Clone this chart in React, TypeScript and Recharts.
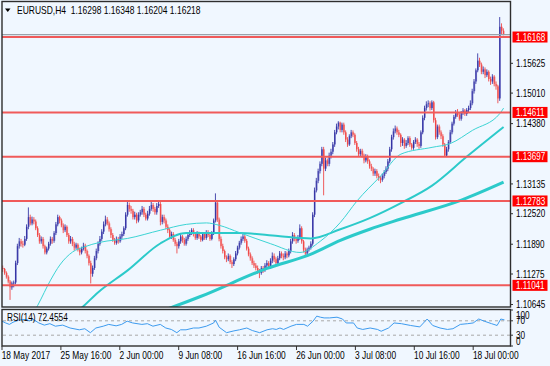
import React from 'react';
import { ComposedChart, Bar, Line, XAxis, YAxis, ReferenceLine } from 'recharts';

// ---------- data ----------
const symbol = 'EURUSD';
const timeframe = 'H4';
const firstOpen = 1140; // price = 1 + v / 10000
const closes = [
  1138, 1130, 1122, 1112, 1100, 1108, 1110, 1150, 1185, 1195,
  1190, 1188, 1200, 1225, 1245, 1232, 1240, 1236, 1222, 1208,
  1195, 1200, 1185, 1172, 1180, 1190, 1200, 1196, 1212, 1230,
  1245, 1238, 1228, 1218, 1225, 1208, 1195, 1200, 1190, 1182,
  1188, 1178, 1172, 1180, 1186, 1175, 1165, 1150, 1128, 1140,
  1160, 1175, 1190, 1200, 1215, 1230, 1240, 1232, 1220, 1208,
  1198, 1192, 1200, 1195, 1205, 1210, 1222, 1250, 1270, 1262,
  1258, 1245, 1250, 1238, 1250, 1255, 1262, 1250, 1242, 1252,
  1262, 1270, 1262, 1255, 1268, 1272, 1235, 1245, 1238, 1225,
  1218, 1205, 1210, 1198, 1190, 1185, 1195, 1205, 1198, 1190,
  1200, 1208, 1212, 1218, 1210, 1202, 1212, 1205, 1198, 1210,
  1202, 1214, 1208, 1200, 1212, 1238, 1275, 1240, 1200, 1185,
  1175, 1162, 1158, 1165, 1152, 1148, 1158, 1170, 1182, 1192,
  1200, 1205, 1196, 1180, 1168, 1160, 1150, 1145, 1140, 1135,
  1130, 1140, 1136, 1145, 1150, 1142, 1155, 1165, 1158, 1150,
  1160, 1170, 1165, 1162, 1170, 1166, 1175, 1195, 1208, 1200,
  1196, 1202, 1222, 1195, 1178, 1170, 1178, 1182, 1190, 1250,
  1300, 1320, 1340, 1355, 1385, 1345, 1362, 1355, 1372, 1380,
  1395, 1420, 1432, 1440, 1425, 1436, 1420, 1405, 1395, 1412,
  1420, 1415, 1398, 1385, 1375, 1382, 1372, 1362, 1370, 1360,
  1350, 1345, 1335, 1340, 1330, 1325, 1322, 1330, 1338, 1345,
  1360, 1385, 1410, 1422, 1428, 1420, 1415, 1398, 1405, 1392,
  1398, 1408, 1395, 1388, 1400, 1405, 1396, 1392, 1420, 1450,
  1470, 1478, 1480, 1470, 1482, 1445, 1410, 1432, 1420, 1412,
  1395, 1372, 1385, 1400, 1420, 1438, 1452, 1462, 1456, 1448,
  1460, 1465, 1458, 1466, 1470, 1480, 1505, 1525, 1548, 1568,
  1560, 1545, 1550, 1538, 1545, 1530, 1525, 1535, 1520, 1515,
  1490, 1638, 1629.8, 1621.8,
];
const highs = [
  1145, 1140, 1133, 1125, 1115, 1112, 1114, 1155, 1190, 1202,
  1200, 1196, 1206, 1230, 1265, 1250, 1246, 1245, 1240, 1226,
  1212, 1205, 1204, 1188, 1184, 1194, 1205, 1204, 1216, 1235,
  1250, 1248, 1242, 1232, 1230, 1228, 1212, 1206, 1204, 1194,
  1192, 1191, 1182, 1184, 1192, 1190, 1178, 1168, 1155, 1145,
  1165, 1180, 1195, 1206, 1220, 1236, 1248, 1245, 1236, 1224,
  1212, 1202, 1205, 1204, 1210, 1215, 1226, 1255, 1280, 1275,
  1268, 1262, 1256, 1254, 1255, 1260, 1268, 1266, 1254, 1258,
  1268, 1278, 1274, 1266, 1274, 1280, 1276, 1250, 1250, 1242,
  1230, 1222, 1215, 1214, 1202, 1194, 1200, 1210, 1208, 1202,
  1205, 1212, 1218, 1222, 1222, 1214, 1216, 1215, 1208, 1214,
  1213, 1218, 1218, 1211, 1216, 1242, 1294, 1280, 1244, 1205,
  1190, 1178, 1166, 1170, 1168, 1156, 1162, 1175, 1186, 1196,
  1205, 1210, 1208, 1200, 1184, 1172, 1164, 1155, 1150, 1145,
  1138, 1144, 1144, 1150, 1156, 1154, 1160, 1172, 1170, 1162,
  1165, 1175, 1174, 1170, 1175, 1174, 1180, 1200, 1214, 1212,
  1204, 1208, 1230, 1226, 1198, 1182, 1182, 1186, 1195, 1255,
  1306, 1326, 1345, 1360, 1390, 1390, 1368, 1366, 1378, 1386,
  1400, 1425, 1438, 1443, 1442, 1440, 1440, 1424, 1410, 1416,
  1425, 1424, 1418, 1402, 1390, 1386, 1386, 1376, 1375, 1374,
  1364, 1355, 1348, 1345, 1344, 1335, 1330, 1335, 1342, 1350,
  1365, 1390, 1415, 1428, 1434, 1432, 1425, 1418, 1410, 1408,
  1404, 1412, 1412, 1398, 1404, 1410, 1408, 1400, 1424, 1455,
  1475, 1484, 1486, 1484, 1486, 1485, 1450, 1436, 1436, 1424,
  1416, 1398, 1390, 1404, 1425, 1442, 1456, 1466, 1468, 1460,
  1464, 1470, 1468, 1470, 1475, 1486, 1510, 1530, 1552, 1583,
  1574, 1564, 1556, 1554, 1550, 1548, 1535, 1540, 1538, 1525,
  1518, 1658, 1645, 1634.8,
];
const lows = [
  1132, 1126, 1118, 1108, 1074, 1095, 1100, 1106, 1146, 1180,
  1184, 1182, 1185, 1196, 1220, 1228, 1228, 1230, 1218, 1204,
  1190, 1190, 1180, 1168, 1168, 1176, 1186, 1190, 1192, 1208,
  1226, 1232, 1224, 1212, 1214, 1204, 1190, 1190, 1185, 1176,
  1178, 1174, 1166, 1168, 1176, 1170, 1160, 1145, 1108, 1122,
  1136, 1156, 1170, 1186, 1196, 1210, 1226, 1228, 1215, 1202,
  1194, 1188, 1188, 1190, 1192, 1200, 1206, 1218, 1246, 1256,
  1252, 1240, 1240, 1232, 1234, 1246, 1250, 1245, 1238, 1238,
  1248, 1258, 1256, 1250, 1250, 1264, 1228, 1230, 1232, 1220,
  1212, 1200, 1200, 1194, 1185, 1170, 1180, 1190, 1192, 1186,
  1186, 1196, 1204, 1208, 1205, 1198, 1198, 1200, 1194, 1195,
  1198, 1198, 1204, 1196, 1197, 1208, 1234, 1235, 1195, 1180,
  1170, 1158, 1152, 1154, 1148, 1140, 1144, 1154, 1166, 1178,
  1188, 1196, 1192, 1176, 1164, 1155, 1146, 1140, 1135, 1128,
  1119, 1126, 1130, 1132, 1140, 1138, 1138, 1150, 1152, 1145,
  1146, 1156, 1160, 1156, 1158, 1160, 1162, 1170, 1190, 1195,
  1190, 1192, 1198, 1190, 1172, 1165, 1166, 1174, 1178, 1186,
  1245, 1296, 1315, 1335, 1350, 1290, 1340, 1350, 1350, 1366,
  1375, 1390, 1416, 1426, 1420, 1420, 1415, 1400, 1390, 1392,
  1408, 1410, 1394, 1380, 1370, 1370, 1368, 1356, 1358, 1355,
  1345, 1340, 1330, 1330, 1325, 1320, 1315, 1318, 1325, 1334,
  1340, 1356, 1380, 1405, 1418, 1415, 1410, 1390, 1392, 1386,
  1388, 1394, 1390, 1384, 1384, 1396, 1390, 1386, 1388, 1416,
  1445, 1465, 1472, 1465, 1466, 1440, 1405, 1406, 1415, 1406,
  1390, 1369, 1370, 1380, 1396, 1416, 1434, 1448, 1452, 1444,
  1444, 1456, 1454, 1454, 1462, 1466, 1476, 1500, 1520, 1544,
  1555, 1540, 1540, 1532, 1534, 1525, 1518, 1520, 1515, 1508,
  1480, 1485, 1622, 1620.4,
];

// moving averages read at anchor bars: [bar index, price]
const ma50Pts: [number, number][] = [
  [14, 1.1030], [19, 1.1063], [26, 1.1115], [31, 1.1146], [38, 1.1173], [44, 1.1183],
  [53, 1.1193], [68, 1.1201], [86, 1.1218], [100, 1.1230], [111, 1.1233], [118, 1.1228],
  [129, 1.1213], [146, 1.1190], [162, 1.1172], [173, 1.1195], [184, 1.1234], [193, 1.1278],
  [206, 1.1330], [217, 1.1375], [234, 1.1389], [244, 1.1397], [256, 1.1424], [271, 1.1459],
  [273, 1.1470],
];
const ma100Pts: [number, number][] = [
  [36, 1.1040], [42, 1.1055], [52, 1.1090], [68, 1.1135], [86, 1.1191], [100, 1.1212],
  [129, 1.1212], [150, 1.1206], [168, 1.1201], [184, 1.1220], [200, 1.1243], [217, 1.1274],
  [234, 1.1310], [253, 1.1370], [273, 1.1431],
];
const ma200Pts: [number, number][] = [
  [78, 1.1040], [88, 1.1053], [107, 1.1080], [144, 1.1139], [169, 1.1170], [184, 1.1197],
  [200, 1.1220], [217, 1.1241], [250, 1.1280], [273, 1.1317],
];
const rsiPts: [number, number][] = [
  [0, 69], [2, 64], [4, 60], [6, 66], [9, 72], [13, 74], [15, 70], [17, 74], [20, 64], [23, 58],
  [26, 62], [29, 55], [33, 58], [37, 50], [42, 45], [45, 48], [48, 37], [51, 50], [55, 55], [58, 60],
  [62, 56], [65, 60], [68, 69], [71, 64], [76, 60], [79, 62], [82, 55], [86, 60], [89, 50], [92, 46],
  [95, 37], [97, 45], [100, 45], [104, 50], [107, 50], [111, 55], [115, 64], [116, 72], [118, 52],
  [122, 37], [126, 42], [129, 45], [133, 50], [136, 43], [140, 37], [144, 45], [147, 48], [149, 46],
  [151, 50], [153, 46], [157, 55], [160, 60], [164, 60], [166, 55], [169, 69], [171, 83], [173, 80],
  [175, 78], [178, 78], [182, 80], [185, 75], [187, 64], [191, 64], [193, 50], [196, 46], [200, 50],
  [204, 46], [206, 41], [210, 50], [213, 64], [217, 62], [222, 57], [227, 53], [231, 75], [234, 57],
  [238, 50], [242, 46], [245, 48], [249, 60], [253, 62], [256, 64], [259, 75], [262, 69], [266, 62],
  [269, 57], [271, 75], [273, 72.4554],
];

const levels = [1.16168, 1.14611, 1.13697, 1.12783, 1.11041];
const priceTicks = [1.10645, 1.11275, 1.1189, 1.1252, 1.13135, 1.1438, 1.1501, 1.15625];
const rsiTicks = [0, 30, 70, 100];
const rsiLevels = [70, 30];
const timeTickIdx = [0, 32, 64, 96, 128, 160, 192, 224, 256];
const timeTickLabels = ['18 May 2017', '25 May 16:00', '2 Jun 00:00', '9 Jun 08:00', '16 Jun 16:00',
  '26 Jun 00:00', '3 Jul 08:00', '10 Jul 16:00', '18 Jul 00:00'];
const slotCount = 277; // bars plus right shift

// ---------- styling ----------
const BG = '#F0F7FF';
const FONT = "'Liberation Sans',Arial,sans-serif";
const NARROW = 0.82;
const BULL_BODY = '#7676C8';
const BULL_LINE = '#22229A';
const BEAR_BODY = '#F68A8A';
const BEAR_LINE = '#EE3434';
const MA_COLOR = '#2CCACA';
const LEVEL_COLOR = '#F05A5A';

const toPrice = (v: number) => 1 + v / 10000;

const data = Array.from({ length: slotCount }, (_, i) => {
  const has = i < closes.length;
  return {
    i,
    o: has ? toPrice(i === 0 ? firstOpen : closes[i - 1]) : null,
    h: has ? toPrice(highs[i]) : null,
    l: has ? toPrice(lows[i]) : null,
    c: has ? toPrice(closes[i]) : null,
    ma50: null as number | null,
    ma100: null as number | null,
    ma200: null as number | null,
    rsi: null as number | null,
  };
});
ma50Pts.forEach(([i, v]) => { data[i].ma50 = v; });
ma100Pts.forEach(([i, v]) => { data[i].ma100 = v; });
ma200Pts.forEach(([i, v]) => { data[i].ma200 = v; });
rsiPts.forEach(([i, v]) => { data[i].rsi = v; });

const last = data[closes.length - 1];
const fmt = (v: number) => v.toFixed(5);
const title = `${symbol},${timeframe}  ${fmt(last.o!)} ${fmt(last.h!)} ${fmt(last.l!)} ${fmt(last.c!)}`;
const rsiLabel = `RSI(14) ${rsiPts[rsiPts.length - 1][1].toFixed(4)}`;

function SText(props: { x: number; y: number; sx?: number; fill?: string; size?: number; children: any }) {
  const { x, y, sx = NARROW, fill = '#000', size = 10, children } = props;
  return (
    <text
      transform={`translate(${x},${y}) scale(${sx},1)`}
      x={0}
      y={0}
      textAnchor="start"
      fontSize={size}
      fontFamily={FONT}
      fill={fill}
      style={{ whiteSpace: 'pre' }}
    >
      {children}
    </text>
  );
}

function Candle(props: any) {
  const { x, y, width, height, payload } = props;
  if (!payload || payload.h == null || !isFinite(y) || !isFinite(height)) return <g />;
  const top = Math.min(y, y + height);
  const bot = Math.max(y, y + height);
  const span = payload.h - payload.l;
  const k = span > 0 ? (bot - top) / span : 0;
  const yO = top + (payload.h - payload.o) * k;
  const yC = top + (payload.h - payload.c) * k;
  const up = payload.c >= payload.o;
  const cx = x + width / 2;
  const bTop = Math.min(yO, yC);
  const bH = Math.max(0.8, Math.abs(yO - yC));
  return (
    <g>
      <rect x={cx - 0.9} y={bTop} width={1.8} height={bH} fill={up ? BULL_BODY : BEAR_BODY} />
      <line x1={cx - 0.3} x2={cx - 0.3} y1={top} y2={bot} stroke={up ? BULL_LINE : BEAR_LINE} strokeWidth={0.8} />
    </g>
  );
}

function PriceTick(props: any) {
  const { x, y, payload } = props;
  return <SText x={x} y={y + 3.6} sx={0.81}>{fmt(payload.value)}</SText>;
}

function RsiTick(props: any) {
  const { x, y, payload } = props;
  const shift = payload.value === 100 ? 5 : payload.value === 0 ? -5 : 0;
  return <SText x={x} y={y + shift + 3.6}>{String(payload.value)}</SText>;
}

function TimeTick(props: any) {
  const { x, y, payload } = props;
  const k = timeTickIdx.indexOf(payload.value);
  return <SText x={x - 0.3} y={y + 8} sx={0.84}>{k >= 0 ? timeTickLabels[k] : ''}</SText>;
}

function LevelLabel(props: any) {
  const { viewBox, text } = props;
  if (!viewBox) return null;
  const yy = viewBox.y;
  const xx = viewBox.x + viewBox.width;
  return (
    <g>
      <rect x={xx + 2.5} y={yy - 5.5} width={35} height={11} fill="#FF0000" />
      <SText x={xx + 6} y={yy + 3.6} sx={0.81} fill="#FFFFFF">{text}</SText>
    </g>
  );
}

export default function App() {
  return (
    <div style={{ position: 'fixed', left: 0, top: 0, width: 550, height: 366, background: BG, overflow: 'hidden' }}>
      <div style={{ position: 'absolute', left: 0, top: 0 }}>
        <ComposedChart width={550} height={366} data={data} margin={{ top: 2, right: 0, bottom: 59, left: 2 }} barCategoryGap={0} barGap={0}>
          <XAxis dataKey="i" type="category" hide />
          <YAxis
            orientation="right"
            width={40}
            type="number"
            domain={[1.10594, 1.16891]}
            allowDataOverflow
            ticks={priceTicks}
            interval={0}
            tick={<PriceTick />}
            tickSize={3}
            tickMargin={3}
            axisLine={false}
            tickLine={{ stroke: '#333' }}
          />
          <Bar dataKey={(d: any) => (d.h == null ? null : [d.l, d.h])} shape={<Candle />} isAnimationActive={false} />
          <Line dataKey="ma200" type="monotone" stroke={MA_COLOR} strokeWidth={3} dot={false} connectNulls isAnimationActive={false} />
          <Line dataKey="ma100" type="monotone" stroke={MA_COLOR} strokeWidth={2} dot={false} connectNulls isAnimationActive={false} />
          <Line dataKey="ma50" type="monotone" stroke="#3CD4D4" strokeWidth={1} dot={false} connectNulls isAnimationActive={false} />
          <ReferenceLine y={last.c!} stroke="#9AA2AA" strokeWidth={1.2} />
          {levels.map((lv) => (
            <ReferenceLine key={lv} y={lv} stroke={LEVEL_COLOR} strokeWidth={2} label={<LevelLabel text={fmt(lv)} />} />
          ))}
        </ComposedChart>
      </div>
      <div style={{ position: 'absolute', left: 0, top: 0 }}>
        <ComposedChart width={550} height={366} data={data} margin={{ top: 310, right: 0, bottom: 0, left: 2 }}>
          <XAxis
            dataKey="i"
            type="category"
            height={20}
            ticks={timeTickIdx}
            interval={0}
            tick={<TimeTick />}
            tickSize={4}
            tickMargin={1}
            axisLine={false}
            tickLine={{ stroke: '#333' }}
          />
          <YAxis
            orientation="right"
            width={40}
            type="number"
            domain={[0, 100]}
            allowDataOverflow
            ticks={rsiTicks}
            interval={0}
            tick={<RsiTick />}
            tickSize={3}
            tickMargin={3}
            axisLine={false}
            tickLine={{ stroke: '#333' }}
          />
          {rsiLevels.map((lv) => (
            <ReferenceLine key={lv} y={lv} stroke="#A9A9A9" strokeDasharray="3 3" strokeWidth={1} />
          ))}
          <Line dataKey="rsi" type="linear" stroke="#3D9BEF" strokeWidth={1} dot={false} connectNulls isAnimationActive={false} />
        </ComposedChart>
      </div>
      <svg width={550} height={366} style={{ position: 'absolute', left: 0, top: 0, pointerEvents: 'none' }}>
        <rect x={2} y={1.5} width={508.5} height={305.5} fill="none" stroke="#2E2E2E" strokeWidth={1.4} />
        <rect x={2} y={309.5} width={508.5} height={36.5} fill="none" stroke="#2E2E2E" strokeWidth={1.4} />
        <polygon points="5,8.5 10.5,8.5 7.75,12" fill="#000" />
        <SText x={17} y={13.5} sx={0.85}>{title}</SText>
        <SText x={7} y={320.5} sx={0.83}>{rsiLabel}</SText>
      </svg>
    </div>
  );
}
